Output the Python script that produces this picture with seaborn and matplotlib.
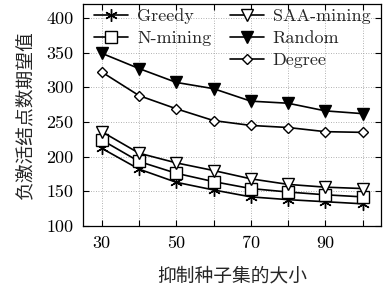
import numpy as np
import pandas as pd
import matplotlib
matplotlib.use("Agg")
import matplotlib.pyplot as plt
import seaborn as sns
from matplotlib.lines import Line2D

# data
seed_size = [30, 40, 50, 60, 70, 80, 90, 100]
greedy = [212, 182, 163, 152, 142, 138, 135, 132]
n_mining = [224, 193, 176, 164, 154, 149, 145, 142]
saa_mining = [236, 205, 191, 180, 168, 160, 156, 154]
random_sel = [349, 327, 307, 298, 280, 277, 266, 262]
degree = [322, 288, 269, 252, 245, 242, 236, 235]

series_names = ["Greedy", "N-mining", "SAA-mining", "Random", "Degree"]
series_vals = [greedy, n_mining, saa_mining, random_sel, degree]

x_tick_labels = ["30", "", "50", "", "70", "", "90", ""]
xlabel = "抑制种子集的大小"
ylabel = "负激活结点数期望值"

df = pd.DataFrame({
    "size": seed_size * len(series_names),
    "value": sum(series_vals, []),
    "method": np.repeat(series_names, len(seed_size)),
})

sns.set_style("ticks")
plt.rcParams["font.family"] = ["cmr10", "Noto Sans CJK SC", "DejaVu Sans"]
plt.rcParams["axes.formatter.use_mathtext"] = True
plt.rcParams["mathtext.fontset"] = "cm"

styles = {
    "Greedy": dict(marker=(6, 2, 0), markersize=9, markerfacecolor="black"),
    "N-mining": dict(marker="s", markersize=8, markerfacecolor="white"),
    "SAA-mining": dict(marker="v", markersize=9, markerfacecolor="white"),
    "Random": dict(marker="v", markersize=9, markerfacecolor="black"),
    "Degree": dict(marker="D", markersize=5.5, markerfacecolor="white"),
}

fig = plt.figure(figsize=(3.85, 2.89), dpi=100)
ax = fig.add_axes([0.216, 0.218, 0.774, 0.768])

for name in series_names:
    sub = df[df["method"] == name]
    sns.lineplot(data=sub, x="size", y="value", ax=ax, color="black",
                 linewidth=1.2, markeredgecolor="black", markeredgewidth=1.0,
                 label=name, **styles[name])

ax.set_xlim(25, 105)
ax.set_ylim(100, 420)
ax.set_xticks(seed_size)
ax.set_xticklabels(x_tick_labels)
ax.set_yticks([100, 150, 200, 250, 300, 350, 400])
ax.set_yticklabels(["100", "150", "200", "250", "300", "350", "400"])
ax.tick_params(direction="in", top=True, right=True, labelsize=13,
               length=4, width=0.8, pad=7, colors="black")
ax.grid(True, linestyle=(0, (1, 2)), color="#999999", linewidth=0.6)
for sp in ax.spines.values():
    sp.set_linewidth(0.9)
    sp.set_color("black")

ax.set_xlabel(xlabel, family="Noto Sans CJK SC", fontsize=13.5, labelpad=10.5)
ax.set_ylabel(ylabel, family="Noto Sans CJK SC", fontsize=13.5, labelpad=8)

# legend: 2 names in first column, 3 in second
handles, labels = ax.get_legend_handles_labels()
blank = Line2D([], [], linestyle="none", marker=None)
order = [0, 1, None, 2, 3, 4]
h = [handles[i] if i is not None else blank for i in order]
l = [labels[i] if i is not None else "" for i in order]
leg = ax.legend(h, l, ncol=2, loc="upper left", frameon=False, fontsize=13,
                handlelength=1.9, columnspacing=1.0, labelspacing=0.35,
                borderaxespad=0.2, handletextpad=0.5, bbox_to_anchor=(0.0, 1.03))
leg.set_zorder(1)

fig.savefig("out.png", dpi=100)
